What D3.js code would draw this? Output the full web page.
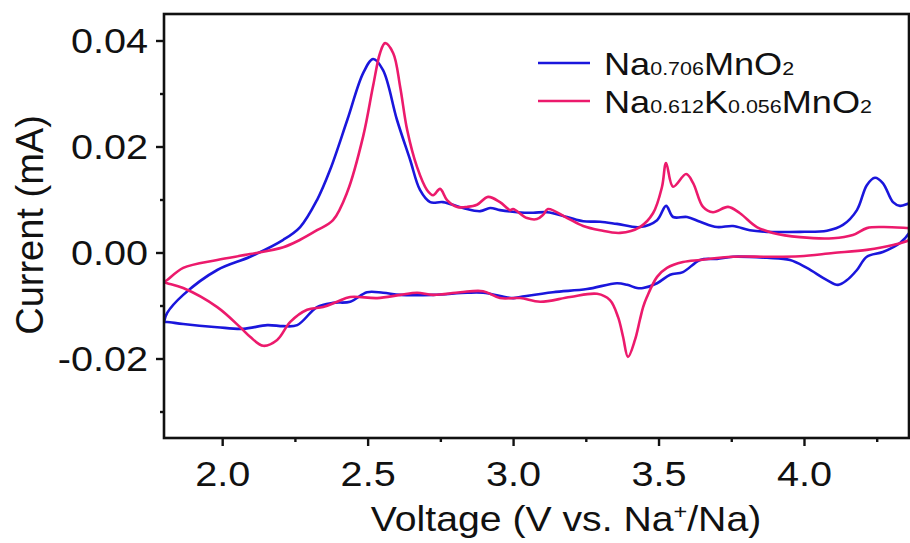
<!DOCTYPE html>
<html>
<head>
<meta charset="utf-8">
<script src="https://cdn.jsdelivr.net/npm/d3@7"></script>
<style>
  body { margin: 0; background: #fff; }
  text { font-family: "Liberation Sans", Arial, sans-serif; }
</style>
</head>
<body>
<div id="chart"></div>
<script>
const width = 910, height = 543;
const margin = { top: 14, right: 1, bottom: 105, left: 164 };
const innerWidth = width - margin.left - margin.right,
      innerHeight = height - margin.top - margin.bottom;

const xTicks = [2.0, 2.5, 3.0, 3.5, 4.0];
const yTicks = [-0.02, 0.00, 0.02, 0.04];
const seriesNames = ["Na0.706MnO2", "Na0.612K0.056MnO2"];
const colors = ["#1a16dc", "#ec1a6c"];

// Na0.706MnO2, anodic sweep then cathodic sweep  [V, mA]
const blueVoltage = [1.800, 1.811, 1.866, 1.983, 2.096, 2.210, 2.268, 2.326, 2.371, 2.430, 2.485, 2.519, 2.553, 2.601, 2.646, 2.680, 2.715, 2.759, 2.828, 2.887, 2.921, 2.955, 3.014, 3.069, 3.117, 3.186, 3.241, 3.299, 3.357, 3.436, 3.495, 3.526, 3.550, 3.598, 3.643, 3.701, 3.756, 3.814, 3.873, 3.986, 4.079, 4.134, 4.182, 4.216, 4.244, 4.271, 4.306, 4.330, 4.364, 4.400,
  4.385, 4.364, 4.330, 4.271, 4.216, 4.182, 4.148, 4.117, 4.079, 4.010, 3.952, 3.873, 3.756, 3.701, 3.643, 3.584, 3.540, 3.495, 3.447, 3.426, 3.392, 3.357, 3.254, 3.137, 3.024, 3.000, 2.897, 2.842, 2.725, 2.612, 2.553, 2.498, 2.440, 2.381, 2.326, 2.258, 2.210, 2.155, 2.072, 1.983, 1.866, 1.811, 1.800];
const blueCurrent = [-0.0131, -0.0114, -0.0080, -0.0033, -0.0008, 0.0024, 0.0048, 0.0099, 0.0156, 0.0250, 0.0339, 0.0365, 0.0344, 0.0250, 0.0175, 0.0118, 0.0095, 0.0095, 0.0084, 0.0078, 0.0084, 0.0080, 0.0076, 0.0075, 0.0076, 0.0067, 0.0059, 0.0058, 0.0054, 0.0048, 0.0061, 0.0088, 0.0067, 0.0067, 0.0058, 0.0048, 0.0050, 0.0042, 0.0039, 0.0039, 0.0041, 0.0052, 0.0080, 0.0127, 0.0141, 0.0131, 0.0095, 0.0088, 0.0093, 0.0095,
  0.0065, 0.0039, 0.0018, 0.0001, -0.0008, -0.0033, -0.0052, -0.0061, -0.0052, -0.0029, -0.0014, -0.0010, -0.0008, -0.0012, -0.0014, -0.0037, -0.0042, -0.0058, -0.0067, -0.0067, -0.0061, -0.0058, -0.0069, -0.0075, -0.0084, -0.0086, -0.0076, -0.0076, -0.0080, -0.0080, -0.0076, -0.0075, -0.0093, -0.0095, -0.0103, -0.0137, -0.0139, -0.0137, -0.0144, -0.0141, -0.0135, -0.0131, -0.0131];

// Na0.612K0.056MnO2, anodic sweep then cathodic sweep  [V, mA]
const pinkVoltage = [1.800, 1.811, 1.866, 1.983, 2.096, 2.210, 2.268, 2.326, 2.381, 2.430, 2.485, 2.519, 2.543, 2.560, 2.588, 2.612, 2.636, 2.670, 2.704, 2.725, 2.749, 2.773, 2.808, 2.842, 2.876, 2.914, 2.955, 2.990, 3.000, 3.048, 3.082, 3.103, 3.120, 3.186, 3.241, 3.299, 3.368, 3.436, 3.481, 3.512, 3.526, 3.550, 3.595, 3.619, 3.653, 3.687, 3.739, 3.780, 3.838, 3.893, 3.986, 4.100, 4.168, 4.216, 4.271, 4.364, 4.400,
  4.390, 4.364, 4.306, 4.216, 4.100, 3.986, 3.873, 3.756, 3.643, 3.584, 3.529, 3.495, 3.460, 3.447, 3.436, 3.419, 3.395, 3.378, 3.361, 3.333, 3.289, 3.196, 3.093, 3.024, 2.955, 2.897, 2.818, 2.725, 2.670, 2.612, 2.533, 2.440, 2.395, 2.347, 2.292, 2.234, 2.189, 2.141, 2.096, 2.062, 1.983, 1.866, 1.811, 1.800];
const pinkCurrent = [-0.0056, -0.0052, -0.0029, -0.0014, -0.0003, 0.0010, 0.0024, 0.0042, 0.0061, 0.0114, 0.0220, 0.0315, 0.0377, 0.0395, 0.0376, 0.0312, 0.0231, 0.0161, 0.0118, 0.0108, 0.0120, 0.0099, 0.0086, 0.0086, 0.0090, 0.0105, 0.0095, 0.0080, 0.0082, 0.0065, 0.0063, 0.0071, 0.0082, 0.0065, 0.0050, 0.0042, 0.0037, 0.0048, 0.0074, 0.0124, 0.0169, 0.0124, 0.0148, 0.0131, 0.0086, 0.0076, 0.0086, 0.0074, 0.0048, 0.0037, 0.0029, 0.0027, 0.0033, 0.0046, 0.0048, 0.0046, 0.0045,
  0.0035, 0.0024, 0.0014, 0.0005, -0.0001, -0.0007, -0.0008, -0.0008, -0.0014, -0.0018, -0.0029, -0.0046, -0.0084, -0.0103, -0.0127, -0.0165, -0.0197, -0.0159, -0.0122, -0.0090, -0.0078, -0.0084, -0.0093, -0.0086, -0.0086, -0.0073, -0.0075, -0.0080, -0.0076, -0.0080, -0.0086, -0.0084, -0.0093, -0.0103, -0.0108, -0.0131, -0.0165, -0.0176, -0.0159, -0.0141, -0.0103, -0.0067, -0.0058, -0.0056];

const series = [
  { name: seriesNames[0], color: colors[0], values: blueVoltage.map((v, i) => [v, blueCurrent[i]]) },
  { name: seriesNames[1], color: colors[1], values: pinkVoltage.map((v, i) => [v, pinkCurrent[i]]) }
];

// the original figure is a bit wider than tall in its lettering
const stretch = 1.1;

const svg = d3.select("#chart")
  .append("svg")
  .attr("width", width)
  .attr("height", height);

const g = svg.append("g")
  .attr("transform", `translate(${margin.left}, ${margin.top})`);

const xScale = d3.scaleLinear()
  .domain([1.8, 4.361])
  .range([0, innerWidth]);

const yScale = d3.scaleLinear()
  .domain([-0.035, 0.045])
  .range([innerHeight, 0]);

// clip to plot area
svg.append("defs").append("clipPath")
  .attr("id", "plot-clip")
  .append("rect")
  .attr("width", innerWidth)
  .attr("height", innerHeight);

const line = d3.line()
  .x(d => xScale(d[0]))
  .y(d => yScale(d[1]))
  .curve(d3.curveCatmullRom.alpha(0.5));

g.append("g")
  .attr("clip-path", "url(#plot-clip)")
  .selectAll("path")
  .data(series)
  .join("path")
  .attr("d", d => line(d.values))
  .attr("fill", "none")
  .attr("stroke", d => d.color)
  .attr("stroke-width", 2.6)
  .attr("stroke-linejoin", "round");

// axes
const xMinor = [2.25, 2.75, 3.25, 3.75, 4.25];
const yMinor = [-0.03, -0.01, 0.01, 0.03];

const xAxis = g.append("g")
  .attr("transform", `translate(0, ${innerHeight})`)
  .call(d3.axisBottom(xScale).tickValues(xTicks).tickFormat(d3.format(".1f")).tickSize(8).tickPadding(14));
xAxis.selectAll("text")
  .style("font-size", "36px")
  .attr("fill", "#111")
  .attr("transform", `scale(${stretch},1)`);

g.append("g")
  .attr("transform", `translate(0, ${innerHeight})`)
  .call(d3.axisBottom(xScale).tickValues(xMinor).tickFormat("").tickSize(4));

const yAxis = g.append("g")
  .call(d3.axisLeft(yScale).tickValues(yTicks).tickFormat(d => d3.format(".2f")(d).replace("−", "-")).tickSize(8).tickPadding(8));
yAxis.selectAll("text")
  .style("font-size", "36px")
  .attr("fill", "#111")
  .attr("x", -16 / stretch)
  .attr("transform", `scale(${stretch},1)`);

g.append("g")
  .call(d3.axisLeft(yScale).tickValues(yMinor).tickFormat("").tickSize(4));

g.selectAll(".domain").remove();
g.selectAll(".tick line").attr("stroke", "#111").attr("stroke-width", 2.4);

// frame
g.append("rect")
  .attr("width", innerWidth)
  .attr("height", innerHeight)
  .attr("fill", "none")
  .attr("stroke", "#111")
  .attr("stroke-width", 2.6);

// axis titles
const xTitle = svg.append("text")
  .attr("transform", `translate(566, 531) scale(1.12,1)`)
  .attr("text-anchor", "middle")
  .style("font-size", "35px")
  .attr("fill", "#111");
xTitle.append("tspan").text("Voltage (V vs. Na");
xTitle.append("tspan").attr("dy", -12).style("font-size", "21px").text("+");
xTitle.append("tspan").attr("dy", 12).text("/Na)");

svg.append("text")
  .attr("transform", `translate(43, 225) rotate(-90)`)
  .attr("text-anchor", "middle")
  .style("font-size", "38px")
  .attr("fill", "#111")
  .text("Current (mA)");

// legend
const legendParts = [
  [["Na", 32], ["0.706", 19], ["MnO", 32], ["2", 19]],
  [["Na", 32], ["0.612", 19], ["K", 32], ["0.056", 19], ["MnO", 32], ["2", 19]]
];
const legend = svg.append("g");
series.forEach((s, i) => {
  const yy = 63 + i * 38;
  legend.append("line")
    .attr("x1", 538).attr("x2", 590)
    .attr("y1", yy).attr("y2", yy)
    .attr("stroke", s.color)
    .attr("stroke-width", 2.6);
  const t = legend.append("text")
    .attr("transform", `translate(604, ${yy + 12}) scale(1.13,1)`)
    .attr("fill", "#111");
  legendParts[i].forEach(p => t.append("tspan").style("font-size", p[1] + "px").text(p[0]));
});
</script>
</body>
</html>
